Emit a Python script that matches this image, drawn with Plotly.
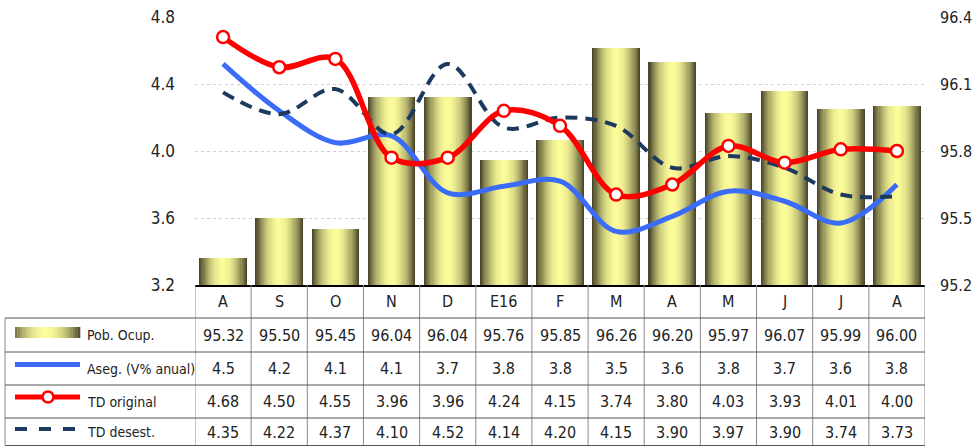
import plotly.graph_objects as go

# ---------------- data ----------------
months = ["A", "S", "O", "N", "D", "E16", "F", "M", "A", "M", "J", "J", "A"]
pob_ocup = [95.32, 95.50, 95.45, 96.04, 96.04, 95.76, 95.85, 96.26, 96.20, 95.97, 96.07, 95.99, 96.00]
aseg_plot = [4.52, 4.24, 4.05, 4.09, 3.75, 3.79, 3.82, 3.52, 3.61, 3.76, 3.70, 3.57, 3.80]
aseg_label = ["4.5", "4.2", "4.1", "4.1", "3.7", "3.8", "3.8", "3.5", "3.6", "3.8", "3.7", "3.6", "3.8"]
td_original = [4.68, 4.50, 4.55, 3.96, 3.96, 4.24, 4.15, 3.74, 3.80, 4.03, 3.93, 4.01, 4.00]
td_desest = [4.35, 4.22, 4.37, 4.10, 4.52, 4.14, 4.20, 4.15, 3.90, 3.97, 3.90, 3.74, 3.73]
row_names = ["Pob. Ocup.", "Aseg. (V% anual)", "TD original", "TD desest."]

# ---------------- layout constants ----------------
W, H = 974, 446
ML, MR, MT, MB = 195, 49, 17, 161
PW, PH = W - ML - MR, H - MT - MB
FONT = "DejaVu Sans Condensed"
TXT = "#222222"
DARK = (0x4a, 0x46, 0x2a)
LIGHT = (0xfb, 0xfb, 0x9a)
BLUE = "#3a6cf8"
RED = "#ff0000"
NAVY = "#1c3a5e"


def px2x(px):
    return (px - ML) / PW


def px2y(py):
    return (MT + PH - py) / PH


def mix(f):
    c = [round(LIGHT[i] + (DARK[i] - LIGHT[i]) * f) for i in range(3)]
    return "rgb(%d,%d,%d)" % tuple(c)


x = list(range(len(months)))
fig = go.Figure()

# gradient bars: stacked overlay of narrowing bars
NL = 22
BW = 0.85
for k in range(NL):
    d = 1 - k / NL
    fig.add_trace(go.Bar(
        x=x, y=pob_ocup, width=BW * d, yaxis="y",
        marker=dict(color=mix(d ** 2.0), line=dict(width=0)),
        showlegend=False, hoverinfo="skip"))

fig.add_trace(go.Scatter(
    x=x, y=aseg_plot, yaxis="y2", mode="lines",
    line=dict(color=BLUE, width=5, shape="spline", smoothing=1.0),
    showlegend=False))
fig.add_trace(go.Scatter(
    x=x, y=td_desest, yaxis="y2", mode="lines",
    line=dict(color=NAVY, width=4, dash="12px,8px", shape="spline", smoothing=1.0),
    showlegend=False))
fig.add_trace(go.Scatter(
    x=x, y=td_original, yaxis="y2", mode="lines+markers",
    line=dict(color=RED, width=5.5, shape="spline", smoothing=1.0),
    marker=dict(size=12, color="white", line=dict(color=RED, width=2.5)),
    showlegend=False))

shapes = []
annotations = []

# table grid
table_bottom = px2y(445.5)
for i in range(len(months) + 1):
    shapes.append(dict(type="line", xref="x", yref="paper", x0=i - 0.5, x1=i - 0.5,
                       y0=0, y1=table_bottom, line=dict(color="#8a8a8a", width=1)))
shapes.append(dict(type="line", xref="paper", yref="paper", x0=px2x(5), x1=px2x(5),
                   y0=px2y(318), y1=table_bottom, line=dict(color="#8a8a8a", width=1)))
for py in [318, 352, 385, 418, 445.5]:
    shapes.append(dict(type="line", xref="paper", yref="paper", x0=px2x(5), x1=1,
                       y0=px2y(py), y1=px2y(py), line=dict(color="#555555", width=1)))

# header (month labels)
for i, m in enumerate(months):
    annotations.append(dict(x=i, y=px2y(301.5), xref="x", yref="paper", text=m,
                            xanchor="center", yanchor="middle",
                            showarrow=False, font=dict(family=FONT, size=16, color=TXT)))

row_centers = [335, 368.5, 401.5, 432]
row_texts = [["%.2f" % v for v in pob_ocup], aseg_label,
             ["%.2f" % v for v in td_original], ["%.2f" % v for v in td_desest]]
for r, (cy, vals) in enumerate(zip(row_centers, row_texts)):
    for i, t in enumerate(vals):
        annotations.append(dict(x=i, y=px2y(cy), xref="x", yref="paper", text=t,
                                xanchor="center", yanchor="middle",
                                showarrow=False, font=dict(family=FONT, size=16, color=TXT)))
    annotations.append(dict(x=px2x(85), y=px2y(cy), xref="paper", yref="paper",
                            text=row_names[r], xanchor="left", yanchor="middle",
                            showarrow=False, font=dict(family=FONT, size=14, color=TXT)))

# legend icons
NS = 26
x0i, x1i = 15, 80
for s in range(NS):
    a = x0i + (x1i - x0i) * s / NS
    b = x0i + (x1i - x0i) * (s + 1) / NS
    c = (s + 0.5) / NS
    d = abs(c - 0.47) / 0.53
    shapes.append(dict(type="rect", xref="paper", yref="paper",
                       x0=px2x(a), x1=px2x(b + 0.3), y0=px2y(338), y1=px2y(327),
                       fillcolor=mix(min(d, 1) ** 2.0), line=dict(width=0)))
shapes.append(dict(type="line", xref="paper", yref="paper", x0=px2x(15), x1=px2x(80),
                   y0=px2y(364.5), y1=px2y(364.5), line=dict(color=BLUE, width=5)))
shapes.append(dict(type="line", xref="paper", yref="paper", x0=px2x(15), x1=px2x(80),
                   y0=px2y(397), y1=px2y(397), line=dict(color=RED, width=5)))
shapes.append(dict(type="circle", xref="paper", yref="paper", x0=px2x(42.5), x1=px2x(53.5),
                   y0=px2y(391.5), y1=px2y(402.5), fillcolor="white", line=dict(color=RED, width=2.5)))
shapes.append(dict(type="line", xref="paper", yref="paper", x0=px2x(15), x1=px2x(80),
                   y0=px2y(429), y1=px2y(429), line=dict(color=NAVY, width=4, dash="dash")))

fig.update_layout(
    width=W, height=H,
    margin=dict(l=ML, r=MR, t=MT, b=MB, autoexpand=False),
    paper_bgcolor="white", plot_bgcolor="white",
    barmode="overlay", bargap=0,
    showlegend=False,
    font=dict(family=FONT, color=TXT),
    xaxis=dict(range=[-0.5, len(months) - 0.5], showticklabels=False, ticks="",
               showgrid=False, zeroline=False, showline=True, linecolor="black",
               linewidth=1.5, mirror=False, automargin=False),
    yaxis=dict(range=[95.2, 96.4], dtick=0.3, tick0=95.2, side="right",
               tickformat=".1f", showgrid=True, gridcolor="#cfcfcf", griddash="dot",
               gridwidth=1, zeroline=False, showline=False, ticks="", automargin=False,
               ticklabelstandoff=14, tickfont=dict(family=FONT, size=16, color=TXT)),
    yaxis2=dict(range=[3.2, 4.8], dtick=0.4, tick0=3.2, side="left", overlaying="y",
                tickformat=".1f", showgrid=False, zeroline=False, showline=False, ticks="",
                automargin=False,
                ticklabelstandoff=19, tickfont=dict(family=FONT, size=17, color=TXT)),
    shapes=shapes,
    annotations=annotations,
)

fig.write_html(
    "out.html",
    config={"displayModeBar": False},
    post_script="document.body.style.margin='0';document.body.style.overflow='hidden';",
)
